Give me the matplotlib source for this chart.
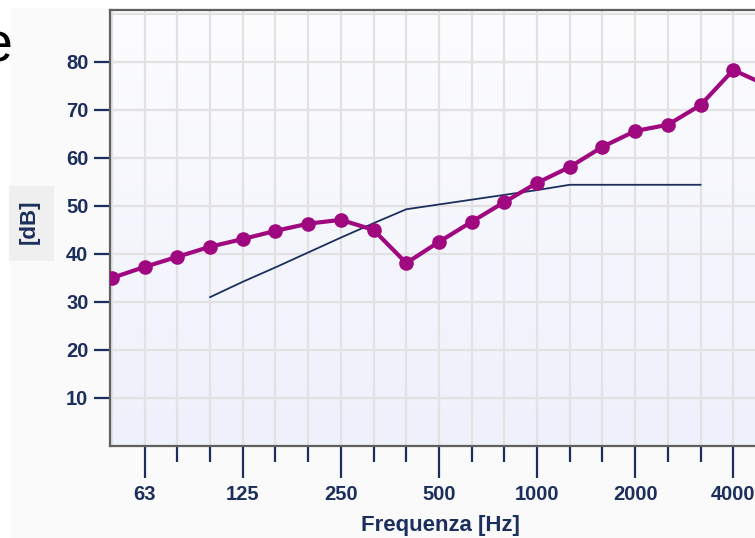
import numpy as np
import matplotlib
matplotlib.use("Agg")
import matplotlib.pyplot as plt
from matplotlib.patches import Rectangle

# third-octave bands shown on the chart (50 Hz .. 5000 Hz)
bands = ["50", "63", "80", "100", "125", "160", "200", "250", "315", "400", "500",
         "630", "800", "1000", "1250", "1600", "2000", "2500", "3150", "4000", "5000"]
labeled = ["63", "125", "250", "500", "1000", "2000", "4000"]

# measured curve (magenta), one value per band
measured = [35.0, 37.3, 39.4, 41.5, 43.1, 44.8, 46.3, 47.1, 45.0, 38.1, 42.5,
            46.7, 50.8, 54.8, 58.1, 62.3, 65.6, 66.9, 71.0, 78.3, 75.2]

# shifted reference curve (navy), 100 Hz .. 3150 Hz
ref_bands = ["100", "125", "160", "200", "250", "315", "400", "500",
             "630", "800", "1000", "1250", "1600", "2000", "2500", "3150"]
reference = [31.0, 34.2, 37.2, 40.3, 43.4, 46.4, 49.3, 50.3,
             51.3, 52.3, 53.3, 54.4, 54.4, 54.4, 54.4, 54.4]

W, H = 755, 538
fig = plt.figure(figsize=(W / 100, H / 100), dpi=100)
fig.patch.set_facecolor("white")

# faint panel behind the chart
fig.patches.append(Rectangle((10 / W, 0), 1, 1 - 8 / H, transform=fig.transFigure,
                             facecolor="#fafafa", edgecolor="none", zorder=-5))

navy = "#1c2f5c"
mag = "#a0087f"

x = np.arange(len(bands))
xr = np.array([bands.index(b) for b in ref_bands])

# axes run past the right edge of the picture (the original is cropped)
x0, x1 = -0.06, 20.6
px_per_band = 32.7
ax_w = (x1 - x0) * px_per_band
ax = fig.add_axes([110 / W, (H - 446) / H, ax_w / W, 436 / H])
ax.set_xlim(x0, x1)
ax.set_ylim(0, 90.8)

# soft vertical gradient background
grad = np.linspace(0, 1, 256).reshape(-1, 1)
ax.imshow(grad, extent=[x0, x1, 0, 90.8], aspect="auto", origin="lower",
          cmap=matplotlib.colors.LinearSegmentedColormap.from_list("bg", ["#eef0fb", "#fdfdff"]),
          zorder=0)

for xi in x:
    ax.axvline(xi, color="#e2e2e2", lw=1.6, zorder=1)
for yv in range(10, 91, 10):
    ax.axhline(yv, color="#e2e2e2", lw=1.6, zorder=1)

ax.plot(xr, reference, color=navy, lw=1.3, zorder=3)
ax.plot(x, measured, color=mag, lw=3, marker="o", ms=9.5, mec=mag, mfc=mag, zorder=4)

for s in ["left", "bottom", "top"]:
    ax.spines[s].set_color("#606060")
    ax.spines[s].set_linewidth(1.6)
ax.spines["right"].set_visible(False)

tick_font = dict(family="Liberation Sans", weight="bold", size=14.5)
ax.set_yticks(range(10, 81, 10))
ax.set_yticklabels([str(v) for v in range(10, 81, 10)], color=navy, fontdict=tick_font)
ax.tick_params(axis="y", length=11.5, width=1.6, color=navy, pad=4)

major = [bands.index(b) for b in labeled]
minor = [i for i in x if i not in major and i != 0]
ax.set_xticks(major)
ax.set_xticklabels(labeled, color=navy, fontdict=tick_font)
ax.set_xticks(minor, minor=True)
ax.tick_params(axis="x", which="major", length=23, width=1.6, color=navy, pad=5)
ax.tick_params(axis="x", which="minor", length=11.5, width=1.6, color=navy)

ax.set_xlabel("Frequenza [Hz]", color=navy, family="Liberation Sans",
              weight="bold", size=16)
ax.xaxis.set_label_coords((440 - 110) / ax_w, -(525 - 446) / 436)
ax.xaxis.label.set_va("center")

# y label in a grey box
fig.patches.append(Rectangle((9 / W, 1 - 261 / H), 45 / W, 75 / H, transform=fig.transFigure,
                             facecolor="#efefef", edgecolor="none", zorder=1))
fig.text(29 / W, 1 - 222 / H, "[dB]", rotation=90, ha="center", va="center",
         color=navy, family="Liberation Sans", weight="bold", size=16)

# fragment of slide text cut by the crop
fig.text(13 / W, 1 - 48 / H, "e", ha="right", va="center", color="black",
         family="Liberation Sans", size=40)

fig.savefig("out.png", dpi=100)
